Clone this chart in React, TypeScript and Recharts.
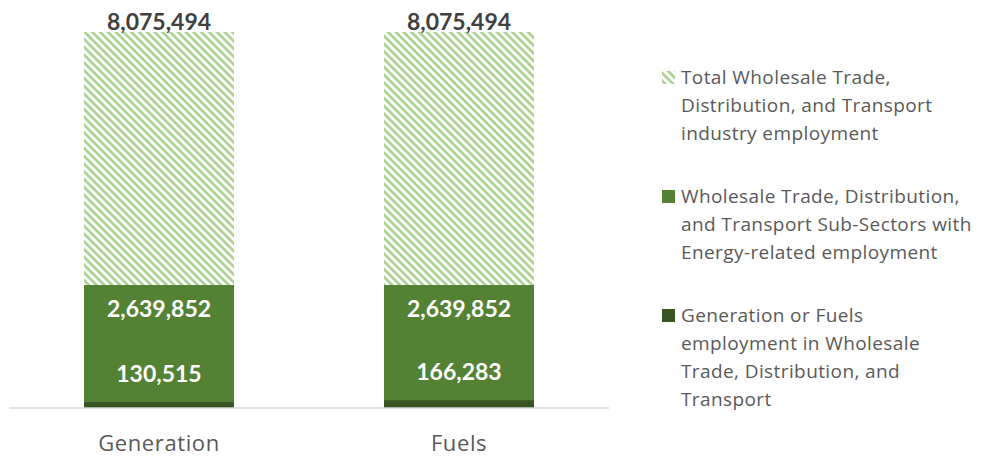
import { BarChart, Bar, XAxis, YAxis, LabelList } from 'recharts'

const categories = ['Generation', 'Fuels']
const totalEmployment = [8075494, 8075494]
const subSectorEmployment = [2639852, 2639852]
const energyEmployment = [130515, 166283]

const legendItems = [
  { key: 'total', lines: ['Total Wholesale Trade,', 'Distribution, and Transport', 'industry employment'] },
  { key: 'sub', lines: ['Wholesale Trade, Distribution,', 'and Transport Sub-Sectors with', 'Energy-related employment'] },
  { key: 'energy', lines: ['Generation or Fuels', 'employment in Wholesale', 'Trade, Distribution, and', 'Transport'] },
]

const data = categories.map((name, i) => ({
  name,
  total: totalEmployment[i],
  sub: subSectorEmployment[i],
  energy: energyEmployment[i],
}))

const FONT = 'Lato, "Open Sans", sans-serif'
const LEGEND_FONT = '"Open Sans", Lato, sans-serif'
const fmt = (v: number) => v.toLocaleString('en-US')

const valueLabel = (dy: number, color: string) => (props: any) => {
  const { x, y, width, value } = props
  return (
    <text
      x={x + width / 2}
      y={y + dy}
      textAnchor="middle"
      dominantBaseline="central"
      fill={color}
      fontFamily={FONT}
      fontWeight={700}
      fontSize={23}
    >
      {fmt(value)}
    </text>
  )
}

function CategoryTick(props: any) {
  const { x, y, payload } = props
  return (
    <text
      x={x}
      y={y + 26}
      textAnchor="middle"
      dominantBaseline="central"
      fill="#595959"
      fontFamily={LEGEND_FONT}
      fontSize={22}
      letterSpacing={0.6}
    >
      {payload.value}
    </text>
  )
}

function Marker({ k }: { k: string }) {
  if (k === 'total') {
    return (
      <svg width={13} height={13} style={{ position: 'absolute', left: 0, top: 8 }}>
        <rect width={13} height={13} fill="url(#hatch)" />
      </svg>
    )
  }
  return (
    <span
      style={{
        position: 'absolute',
        left: 0,
        top: 8,
        width: 13,
        height: 13,
        background: k === 'sub' ? '#548235' : '#375623',
      }}
    />
  )
}

function ChartLegend() {
  return (
    <div
      style={{
        position: 'absolute',
        left: 662,
        top: 63,
        fontFamily: LEGEND_FONT,
        fontSize: 19,
        letterSpacing: 0.4,
        color: '#595959',
        lineHeight: '28px',
      }}
    >
      {legendItems.map((item) => (
        <div key={item.key} style={{ position: 'relative', paddingLeft: 19, marginBottom: 35 }}>
          <Marker k={item.key} />
          {item.lines.map((l) => (
            <div key={l} style={{ whiteSpace: 'nowrap' }}>{l}</div>
          ))}
        </div>
      ))}
    </div>
  )
}

export default function App() {
  return (
    <div style={{ position: 'absolute', left: 0, top: 0, width: 991, height: 457, background: '#fff' }}>
      <BarChart
        width={991}
        height={457}
        data={data}
        margin={{ top: 32, right: 382, left: 9, bottom: 0 }}
        barCategoryGap="25%"
      >
        <defs>
          <pattern id="hatch" patternUnits="userSpaceOnUse" width={5.5} height={5.5} patternTransform="rotate(45)">
            <rect x={0} y={0} width={5.5} height={5.5} fill="#ffffff" />
            <rect x={0} y={0} width={5.5} height={2.6} fill="#a9d18e" />
          </pattern>
        </defs>
        <XAxis
          xAxisId="a"
          dataKey="name"
          height={49}
          axisLine={{ stroke: '#d9d9d9', strokeWidth: 1.5 }}
          tickLine={false}
          tick={<CategoryTick />}
        />
        <XAxis xAxisId="b" dataKey="name" hide />
        <XAxis xAxisId="c" dataKey="name" hide />
        <YAxis hide domain={[0, 8075494]} />
        <Bar xAxisId="a" dataKey="total" fill="url(#hatch)" barSize={150} isAnimationActive={false}>
          <LabelList dataKey="total" content={valueLabel(-11, '#404040')} />
        </Bar>
        <Bar xAxisId="b" dataKey="sub" fill="#548235" barSize={150} isAnimationActive={false}>
          <LabelList dataKey="sub" content={valueLabel(23, '#ffffff')} />
        </Bar>
        <Bar xAxisId="c" dataKey="energy" fill="#375623" barSize={150} isAnimationActive={false}>
          <LabelList dataKey="energy" content={valueLabel(-29, '#ffffff')} />
        </Bar>
      </BarChart>
      <ChartLegend />
    </div>
  )
}
